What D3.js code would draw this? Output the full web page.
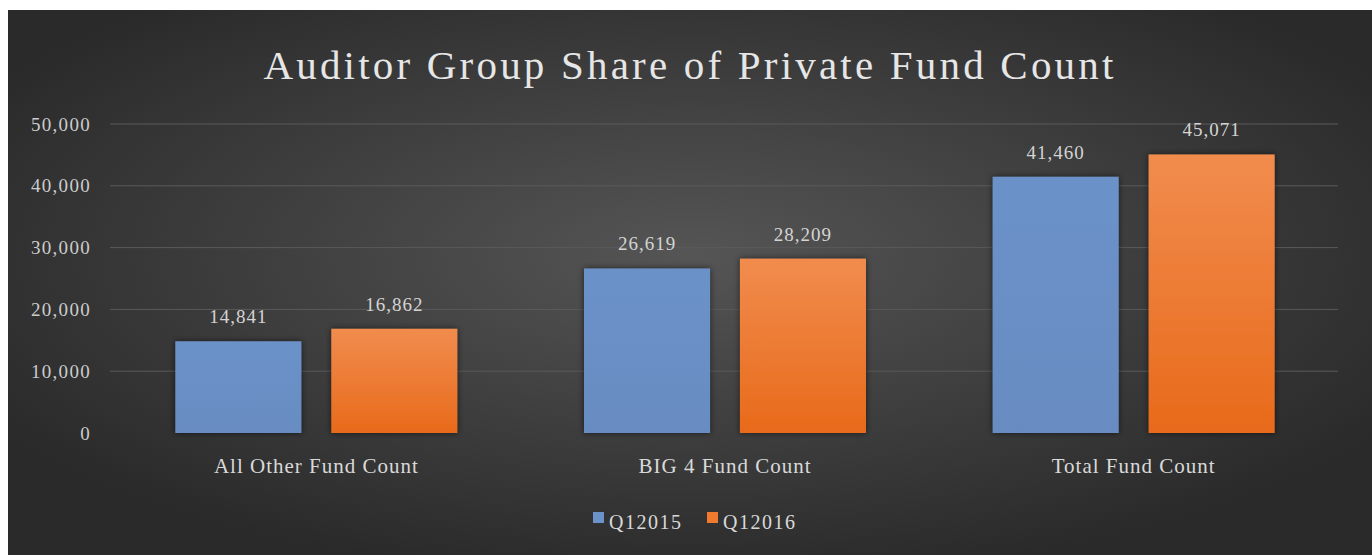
<!DOCTYPE html>
<html>
<head>
<meta charset="utf-8">
<script src="https://cdn.jsdelivr.net/npm/d3@7"></script>
<style>
  body { margin: 0; background: #fff; }
  text { font-family: "Liberation Serif", "DejaVu Serif", serif; }
</style>
</head>
<body>
<script>
var categories = ["All Other Fund Count", "BIG 4 Fund Count", "Total Fund Count"];
var seriesNames = ["Q12015", "Q12016"];
var q12015 = [14841, 26619, 41460];
var q12016 = [16862, 28209, 45071];
var yTicks = [0, 10000, 20000, 30000, 40000, 50000];

var W = 1372, H = 555;
var svg = d3.select("body").append("svg")
	.attr("width", W)
	.attr("height", H);

var defs = svg.append("defs");
var bg = defs.append("radialGradient").attr("id", "bg")
	.attr("cx", "50%").attr("cy", "45%").attr("r", "60%");
bg.append("stop").attr("offset", "0%").attr("stop-color", "#555555");
bg.append("stop").attr("offset", "100%").attr("stop-color", "#2a2a2a");

var og = defs.append("linearGradient").attr("id", "orange")
	.attr("x1", 0).attr("y1", 0).attr("x2", 0).attr("y2", 1);
og.append("stop").attr("offset", "0%").attr("stop-color", "#f18c4e");
og.append("stop").attr("offset", "100%").attr("stop-color", "#e86a1a");

var bgBlue = defs.append("linearGradient").attr("id", "blue")
	.attr("x1", 0).attr("y1", 0).attr("x2", 0).attr("y2", 1);
bgBlue.append("stop").attr("offset", "0%").attr("stop-color", "#6b92c9");
bgBlue.append("stop").attr("offset", "100%").attr("stop-color", "#678cc2");

var shadow = defs.append("filter").attr("id", "shadow")
	.attr("x", "-10%").attr("y", "-10%").attr("width", "120%").attr("height", "120%");
shadow.append("feDropShadow").attr("dx", 0).attr("dy", 0).attr("stdDeviation", 3)
	.attr("flood-color", "#000").attr("flood-opacity", 0.6);

// background panel
svg.append("rect")
	.attr("x", 8).attr("y", 10)
	.attr("width", W - 8).attr("height", H - 10)
	.attr("fill", "url(#bg)");

// careful: "top" is taken by window.top
var plotLeft = 112, plotRight = 1338, plotTop = 124, plotBottom = 433;

var y = d3.scaleLinear().domain([0, 50000]).range([plotBottom, plotTop]);
var x0 = d3.scaleBand().domain(categories).range([plotLeft, plotRight])
	.paddingInner(0.31).paddingOuter(0.155);
var x1 = d3.scaleBand().domain(seriesNames).range([0, x0.bandwidth()])
	.paddingInner(0.192);

var fmt = d3.format(",");

// title
svg.append("text")
	.attr("x", 690).attr("y", 79)
	.attr("text-anchor", "middle")
	.attr("font-size", "41px")
	.attr("letter-spacing", "3.2px")
	.attr("fill", "#e6e6e6")
	.text("Auditor Group Share of Private Fund Count");

// gridlines
svg.append("g")
	.selectAll("line")
	.data(yTicks.filter(function(d) { return d > 0; }))
	.enter()
	.append("line")
	.attr("x1", 110).attr("x2", plotRight)
	.attr("y1", function(d) { return y(d); })
	.attr("y2", function(d) { return y(d); })
	.attr("stroke", "#5a5a5a")
	.attr("stroke-width", 1);

// y axis labels
var yAxis = d3.axisLeft(y).tickValues(yTicks).tickFormat(fmt).tickSize(0).tickPadding(0);
var yg = svg.append("g").attr("transform", "translate(91,0)").call(yAxis);
yg.select(".domain").remove();
yg.selectAll("text")
	.attr("font-size", "19px")
	.attr("letter-spacing", "1.3px")
	.attr("font-family", "Liberation Serif, serif")
	.attr("fill", "#cccccc");

var data = categories.map(function(c, i) {
	return { cat: c, vals: [
		{ s: "Q12015", v: q12015[i] },
		{ s: "Q12016", v: q12016[i] }
	] };
});

var groups = svg.append("g").selectAll("g")
	.data(data)
	.enter()
	.append("g")
	.attr("transform", function(d) { return "translate(" + x0(d.cat) + ",0)"; });

groups.selectAll("rect")
	.data(function(d) { return d.vals; })
	.enter()
	.append("rect")
	.attr("x", function(d) { return x1(d.s); })
	.attr("y", function(d) { return y(d.v); })
	.attr("width", x1.bandwidth())
	.attr("height", function(d) { return plotBottom - y(d.v); })
	.attr("fill", function(d) { return d.s == "Q12015" ? "url(#blue)" : "url(#orange)"; })
	.attr("filter", "url(#shadow)");

groups.selectAll("text")
	.data(function(d) { return d.vals; })
	.enter()
	.append("text")
	.attr("x", function(d) { return x1(d.s) + x1.bandwidth() / 2; })
	.attr("y", function(d) { return y(d.v) - 18; })
	.attr("text-anchor", "middle")
	.attr("font-size", "19px")
	.attr("letter-spacing", "1px")
	.attr("fill", "#d4d4d4")
	.text(function(d) { return fmt(d.v); });

// baseline
svg.append("line")
	.attr("x1", plotLeft).attr("x2", plotRight)
	.attr("y1", plotBottom).attr("y2", plotBottom)
	.attr("stroke", "#c8c8c8")
	.attr("stroke-width", 2.5)
	.attr("filter", "url(#shadow)");

// category labels
var xAxis = d3.axisBottom(x0).tickSize(0).tickPadding(0);
var xg = svg.append("g").attr("transform", "translate(0," + (plotBottom + 40) + ")").call(xAxis);
xg.select(".domain").remove();
xg.selectAll("text")
	.attr("font-size", "21px")
	.attr("letter-spacing", "1px")
	.attr("font-family", "Liberation Serif, serif")
	.attr("fill", "#d9d9d9")
	.attr("dy", 0);

// legend
var legendColors = ["#6b92c9", "#f07a2e"];
var legend = svg.append("g").attr("transform", "translate(593,512)");
var lx = [0, 114];
seriesNames.forEach(function(s, i) {
	legend.append("rect")
		.attr("x", lx[i]).attr("y", 0)
		.attr("width", 11).attr("height", 11)
		.attr("fill", legendColors[i]);
	legend.append("text")
		.attr("x", lx[i] + 16).attr("y", 17)
		.attr("font-size", "20px")
		.attr("letter-spacing", "1.5px")
		.attr("fill", "#d9d9d9")
		.text(s);
});
</script>
</body>
</html>
